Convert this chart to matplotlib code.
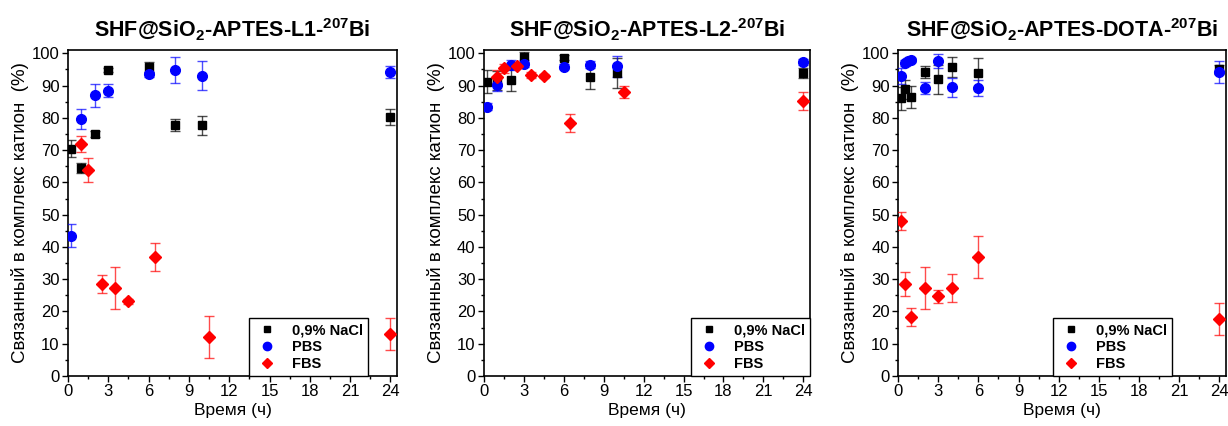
import matplotlib.pyplot as plt
from matplotlib.lines import Line2D
from matplotlib.ticker import MultipleLocator

plt.rcParams['font.family'] = ['Liberation Sans', 'DejaVu Sans']
plt.rcParams['mathtext.fontset'] = 'custom'
plt.rcParams['mathtext.rm'] = 'Liberation Sans:bold'
plt.rcParams['mathtext.bf'] = 'Liberation Sans:bold'
plt.rcParams['mathtext.default'] = 'bf'

# --- data ---
titles = ['SHF@SiO$_2$-APTES-L1-$^{207}$Bi',
          'SHF@SiO$_2$-APTES-L2-$^{207}$Bi',
          'SHF@SiO$_2$-APTES-DOTA-$^{207}$Bi']
series_names = ['0,9% NaCl', 'PBS', 'FBS']

# L1
l1_nacl_t = [0.25, 1, 2, 3, 6, 8, 10, 24]
l1_nacl_y = [70.5, 64.5, 75.0, 94.8, 95.8, 77.8, 77.7, 80.3]
l1_nacl_e = [2.5, 1.5, 1.0, 0.6, 1.5, 2.0, 3.0, 2.5]
l1_pbs_t = [0.25, 1, 2, 3, 6, 8, 10, 24]
l1_pbs_y = [43.5, 79.7, 87.0, 88.4, 93.5, 94.9, 93.1, 94.2]
l1_pbs_e = [3.5, 3.0, 3.5, 2.0, 0.8, 4.0, 4.5, 1.8]
l1_fbs_t = [1, 1.5, 2.5, 3.5, 4.5, 6.5, 10.5, 24]
l1_fbs_y = [72.0, 63.9, 28.5, 27.2, 23.2, 36.8, 12.0, 13.0]
l1_fbs_e = [2.5, 3.8, 2.8, 6.5, 0.8, 4.3, 6.5, 5.0]

# L2
l2_nacl_t = [0.25, 1, 2, 3, 6, 8, 10, 24]
l2_nacl_y = [91.2, 91.5, 91.7, 98.8, 98.6, 92.8, 93.9, 94.0]
l2_nacl_e = [3.5, 3.0, 3.5, 1.5, 0.8, 4.0, 4.5, 1.5]
l2_pbs_t = [0.25, 1, 2, 3, 6, 8, 10, 24]
l2_pbs_y = [83.5, 90.3, 96.3, 96.8, 95.8, 96.5, 96.0, 97.3]
l2_pbs_e = [1.0, 2.0, 1.5, 1.0, 0.8, 1.0, 3.2, 1.0]
l2_fbs_t = [1, 1.5, 2.5, 3.5, 4.5, 6.5, 10.5, 24]
l2_fbs_y = [92.8, 95.3, 96.2, 93.3, 93.0, 78.5, 88.0, 85.3]
l2_fbs_e = [2.0, 1.5, 0.8, 0.8, 0.7, 2.8, 2.0, 2.8]

# DOTA
dota_nacl_t = [0.25, 0.5, 1, 2, 3, 4, 6, 24]
dota_nacl_y = [86.0, 88.8, 86.5, 94.2, 92.0, 95.8, 94.0, 95.0]
dota_nacl_e = [3.5, 3.0, 3.5, 1.8, 4.5, 3.0, 4.5, 1.5]
dota_pbs_t = [0.25, 0.5, 0.75, 1, 2, 3, 4, 6, 24]
dota_pbs_y = [93.0, 97.0, 97.6, 98.0, 89.2, 97.7, 89.5, 89.3, 94.2]
dota_pbs_e = [2.5, 1.0, 0.8, 0.6, 1.8, 2.2, 3.0, 2.5, 3.5]
dota_fbs_t = [0.25, 0.5, 1, 2, 3, 4, 6, 24]
dota_fbs_y = [48.0, 28.5, 18.3, 27.2, 24.7, 27.2, 36.8, 17.7]
dota_fbs_e = [2.8, 3.8, 2.7, 6.5, 2.0, 4.3, 6.5, 5.0]

x_ticks = [0, 3, 6, 9, 12, 15, 18, 21, 24]

panels = [
    [(l1_nacl_t, l1_nacl_y, l1_nacl_e), (l1_pbs_t, l1_pbs_y, l1_pbs_e), (l1_fbs_t, l1_fbs_y, l1_fbs_e)],
    [(l2_nacl_t, l2_nacl_y, l2_nacl_e), (l2_pbs_t, l2_pbs_y, l2_pbs_e), (l2_fbs_t, l2_fbs_y, l2_fbs_e)],
    [(dota_nacl_t, dota_nacl_y, dota_nacl_e), (dota_pbs_t, dota_pbs_y, dota_pbs_e), (dota_fbs_t, dota_fbs_y, dota_fbs_e)],
]

# --- styles ---
colors = ['black', '#0000FF', '#FF0000']
markers = ['s', 'o', 'D']
msizes = [6, 7, 6]
axes_pos = [
    [0.0554, 0.1174, 0.268, 0.765],
    [0.3941, 0.1174, 0.2655, 0.765],
    [0.7313, 0.1174, 0.2672, 0.765],
]
legend_right = [0.912, 1.0, 0.836]

fig = plt.figure(figsize=(12.28, 4.26), dpi=100)

for k in range(3):
    ax = fig.add_axes(axes_pos[k])
    for (t, y, e), c, m, s in zip(panels[k], colors, markers, msizes):
        ax.errorbar(t, y, yerr=e, fmt=m, color=c, ms=s, mec=c,
                    ecolor=c, elinewidth=1, capsize=3.5, capthick=1,
                    zorder=3)
    # lighten error bars a little
    for coll in ax.collections:
        coll.set_alpha(0.7)
    for ln in ax.lines:
        if ln.get_marker() in ('_', 0, 1, 2, 3):
            ln.set_alpha(0.7)

    ax.set_xlim(0, 24.5)
    ax.set_ylim(0, 101)
    ax.set_xticks(x_ticks)
    ax.xaxis.set_minor_locator(MultipleLocator(1.5))
    ax.yaxis.set_major_locator(MultipleLocator(10))
    ax.yaxis.set_minor_locator(MultipleLocator(5))
    ax.tick_params(which='major', direction='out', length=4, width=1,
                   labelsize=12, pad=2, colors='black')
    ax.tick_params(which='minor', direction='out', length=2.5, width=1)
    for sp in ax.spines.values():
        sp.set_linewidth(1.2)

    ax.set_xlabel('Время (ч)', fontsize=12.5, labelpad=3)
    ax.set_ylabel('Связанный в комплекс катион  (%)', fontsize=13.5, labelpad=2)
    ax.set_title(titles[k], fontsize=15.5, fontweight='bold', pad=9)

    handles = [Line2D([], [], linestyle='none', marker=m, color=c, ms=s - 1)
               for c, m, s in zip(colors, markers, msizes)]
    leg = ax.legend(handles, series_names, loc='lower right',
                    bbox_to_anchor=(legend_right[k], 0), borderaxespad=0,
                    prop={'weight': 'bold', 'size': 10.5}, fancybox=False,
                    framealpha=1, edgecolor='black', handletextpad=0.8,
                    handlelength=1.8, labelspacing=0.2, borderpad=0.35)
    leg.get_frame().set_linewidth(1.0)

fig.savefig('out.png', dpi=100, facecolor='white')
